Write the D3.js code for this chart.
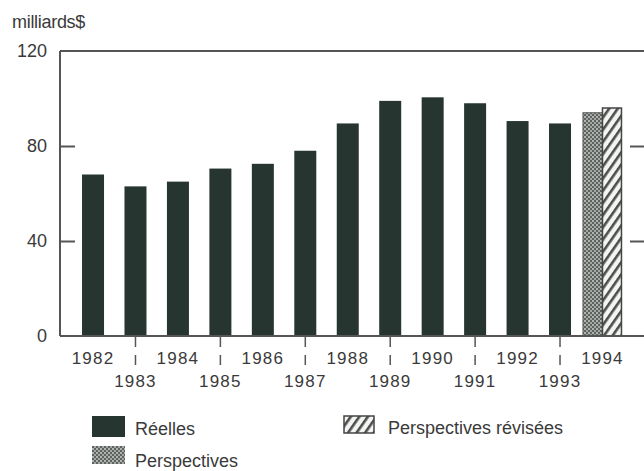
<!DOCTYPE html>
<html><head><meta charset="utf-8">
<script src="https://cdn.jsdelivr.net/npm/d3@7"></script>
<style>body{margin:0;background:#fff}svg{display:block}text{font-family:"Liberation Sans",Arial,sans-serif;fill:#3a3a3a}</style>
</head><body>
<script>
const years = ["1982","1983","1984","1985","1986","1987","1988","1989","1990","1991","1992","1993","1994"];
const reelles = [68,63,65,70.5,72.5,78,89.5,99,100.5,98,90.5,89.5,null];
const perspectives = [null,null,null,null,null,null,null,null,null,null,null,null,94];
const revisees = [null,null,null,null,null,null,null,null,null,null,null,null,96];
const yTicks = [0,40,80,120];
const unitLabel = "milliards$";
const legendLabels = ["Réelles","Perspectives","Perspectives révisées"];

const W=644,H=471;
const svg=d3.select("body").append("svg").attr("width",W).attr("height",H);
const defs=svg.append("defs");
const dark="#26352f";
const pd=defs.append("pattern").attr("id","dots").attr("patternUnits","userSpaceOnUse").attr("width",4).attr("height",4);
pd.append("rect").attr("width",4).attr("height",4).attr("fill","#5e6360");
pd.append("circle").attr("cx",1).attr("cy",1).attr("r",0.9).attr("fill","#d8dcd8");
pd.append("circle").attr("cx",3).attr("cy",3).attr("r",0.9).attr("fill","#c4c8c4");
const ph=defs.append("pattern").attr("id","hatch").attr("patternUnits","userSpaceOnUse").attr("width",7).attr("height",7).attr("patternTransform","rotate(35)");
ph.append("rect").attr("width",7).attr("height",7).attr("fill","#f4f4f2");
ph.append("rect").attr("width",2.6).attr("height",7).attr("fill","#4a4f4c");

const x=d3.scaleBand().domain(years).range([71.8,623.7]).paddingInner(0).paddingOuter(0);
const y=d3.scaleLinear().domain([0,120]).range([336,51]);
const step=x.bandwidth();
const barW=22;
const axisCol="#555";

svg.append("line").attr("x1",60).attr("x2",W).attr("y1",y(120)).attr("y2",y(120)).attr("stroke",axisCol).attr("stroke-width",2);
svg.append("line").attr("x1",60).attr("x2",60).attr("y1",y(120)).attr("y2",y(0)).attr("stroke",axisCol).attr("stroke-width",2);

const yl=svg.append("g").attr("transform","translate(60,0)").call(d3.axisRight(y).tickValues(yTicks).tickSize(15).tickFormat(""));
yl.select(".domain").remove();
yl.selectAll("line").attr("stroke",axisCol).attr("stroke-width",2).filter(d=>d===0||d===120).remove();
svg.selectAll(".ylab").data(yTicks).enter().append("text").attr("x",47).attr("y",d=>y(d)+6).attr("text-anchor","end").attr("font-size",18).text(d=>d);
const yr=svg.append("g").attr("transform","translate("+(W+1)+",0)").call(d3.axisLeft(y).tickValues([40,80]).tickSize(15).tickFormat(""));
yr.select(".domain").remove();
yr.selectAll("line").attr("stroke",axisCol).attr("stroke-width",2);

svg.append("text").attr("x",12).attr("y",28).attr("font-size",18).attr("letter-spacing",-0.3).text(unitLabel);

svg.selectAll(".r").data(years.map((d,i)=>({d,v:reelles[i]})).filter(o=>o.v!=null)).enter().append("rect")
 .attr("x",o=>x(o.d)+step/2-barW/2).attr("width",barW).attr("y",o=>y(o.v)).attr("height",o=>y(0)-y(o.v)).attr("fill",dark);
svg.selectAll(".p").data(years.map((d,i)=>({d,v:perspectives[i]})).filter(o=>o.v!=null)).enter().append("rect")
 .attr("x",o=>x(o.d)+step/2-19.5).attr("width",19.5).attr("y",o=>y(o.v)).attr("height",o=>y(0)-y(o.v)).attr("fill","url(#dots)").attr("stroke","#555").attr("stroke-width",1);
svg.selectAll(".h").data(years.map((d,i)=>({d,v:revisees[i]})).filter(o=>o.v!=null)).enter().append("rect")
 .attr("x",o=>x(o.d)+step/2).attr("width",19).attr("y",o=>y(o.v)).attr("height",o=>y(0)-y(o.v)).attr("fill","url(#hatch)").attr("stroke","#444").attr("stroke-width",1.5);

svg.append("line").attr("x1",60).attr("x2",W).attr("y1",y(0)).attr("y2",y(0)).attr("stroke",axisCol).attr("stroke-width",2);
const odd=years.filter((d,i)=>i%2===1);
svg.selectAll(".xt").data(odd).enter().append("line").attr("x1",d=>x(d)+step/2).attr("x2",d=>x(d)+step/2).attr("y1",y(0)).attr("y2",y(0)+11).attr("stroke",axisCol).attr("stroke-width",1.5);
svg.selectAll(".xt2").data(odd).enter().append("line").attr("x1",d=>x(d)+step/2).attr("x2",d=>x(d)+step/2).attr("y1",y(0)+19).attr("y2",y(0)+29).attr("stroke",axisCol).attr("stroke-width",1.5);
svg.selectAll(".xl").data(years).enter().append("text").attr("x",d=>x(d)+step/2).attr("y",(d,i)=>i%2===0?364:387).attr("text-anchor","middle").attr("font-size",17).attr("letter-spacing",1.2).text(d=>d);

const lg=svg.append("g");
lg.append("rect").attr("x",92).attr("y",416).attr("width",33).attr("height",21).attr("fill",dark);
lg.append("text").attr("x",135).attr("y",435).attr("font-size",18).text(legendLabels[0]);
lg.append("rect").attr("x",92).attr("y",446).attr("width",33).attr("height",18).attr("fill","url(#dots)");
lg.append("text").attr("x",135).attr("y",467).attr("font-size",18).text(legendLabels[1]);
lg.append("rect").attr("x",344).attr("y",416).attr("width",30).attr("height",17).attr("fill","url(#hatch)").attr("stroke","#444").attr("stroke-width",1.5);
lg.append("text").attr("x",388).attr("y",434).attr("font-size",18).text(legendLabels[2]);
</script>
</body></html>
